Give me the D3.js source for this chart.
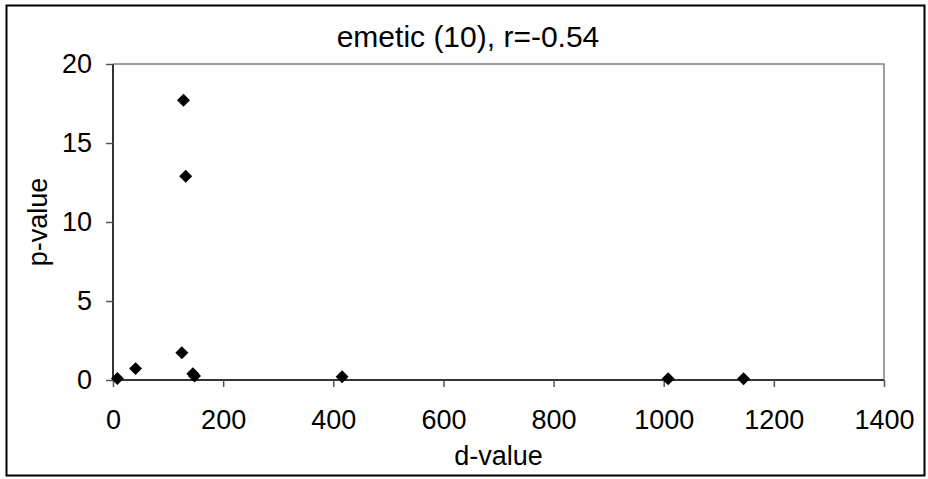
<!DOCTYPE html>
<html>
<head>
<meta charset="utf-8">
<script src="https://cdn.jsdelivr.net/npm/d3@7"></script>
<style>
  html, body { margin: 0; padding: 0; background: #fff; }
  svg { display: block; font-family: "Liberation Sans", Arial, sans-serif; }
</style>
</head>
<body>
<svg id="chart" width="928" height="479"></svg>
<script>
// d-value vs p-value for the emetic group
const dValues = [8, 41, 125, 145, 148, 416, 128, 132, 1008, 1145];
const pValues = [0.1, 0.72, 1.73, 0.4, 0.25, 0.21, 17.7, 12.9, 0.08, 0.08];
const xTicks = [0, 200, 400, 600, 800, 1000, 1200, 1400];
const yTicks = [0, 5, 10, 15, 20];
const titleText = "emetic (10), r=-0.54";

const svg = d3.select("#chart");
const W = 928, H = 479;
const plot = { left: 113, right: 884, top: 64, bottom: 380 };
const labelFont = "27px";

const x = d3.scaleLinear().domain([0, 1400]).range([plot.left, plot.right]);
const y = d3.scaleLinear().domain([0, 20]).range([plot.bottom, plot.top]);

// outer chart frame
svg.append("rect")
  .attr("x", 6.5).attr("y", 5.5)
  .attr("width", W - 10).attr("height", H - 9)
  .attr("fill", "none").attr("stroke", "#000").attr("stroke-width", 2);

// plot area border (top and right)
svg.append("path")
  .attr("d", `M${plot.left},${plot.top}H${plot.right}V${plot.bottom}`)
  .attr("fill", "none").attr("stroke", "#808080").attr("stroke-width", 1.5);

// axes
const xAxis = d3.axisBottom(x).tickValues(xTicks).tickFormat(d3.format("d")).tickSize(7).tickPadding(23);
const yAxis = d3.axisLeft(y).tickValues(yTicks).tickFormat(d3.format("d")).tickSize(7).tickPadding(14);

const gx = svg.append("g").attr("transform", `translate(0,${plot.bottom})`).call(xAxis);
const gy = svg.append("g").attr("transform", `translate(${plot.left},0)`).call(yAxis);

[gx, gy].forEach(g => {
  g.attr("font-size", null).attr("font-family", null);
  g.select(".domain").attr("stroke", "#333").attr("stroke-width", 2);
  g.selectAll(".tick line").attr("stroke", "#555").attr("stroke-width", 1.5);
  g.selectAll(".tick text")
    .attr("fill", "#000")
    .style("font-size", labelFont);
});
// axis lines without end caps
gx.select(".domain").attr("d", `M${plot.left},0H${plot.right}`);
gy.select(".domain").attr("d", `M0,${plot.top}V${plot.bottom}`);

// title
svg.append("text")
  .attr("x", 468).attr("y", 47)
  .attr("text-anchor", "middle")
  .style("font-size", "30px")
  .attr("fill", "#000")
  .text(titleText);

// axis titles
svg.append("text")
  .attr("x", (plot.left + plot.right) / 2).attr("y", 465)
  .attr("text-anchor", "middle")
  .style("font-size", labelFont)
  .attr("fill", "#000")
  .text("d-value");

svg.append("text")
  .attr("transform", `translate(47,${(plot.top + plot.bottom) / 2}) rotate(-90)`)
  .attr("text-anchor", "middle")
  .style("font-size", labelFont)
  .attr("fill", "#000")
  .text("p-value");

// diamond markers
const diamond = d3.symbol().type(d3.symbolSquare).size(84);
svg.append("g")
  .selectAll("path")
  .data(dValues.map((d, i) => ({ d, p: pValues[i] })))
  .join("path")
  .attr("d", diamond)
  .attr("transform", v => `translate(${x(v.d)},${y(v.p)}) rotate(45)`)
  .attr("fill", "#000");
</script>
</body>
</html>
